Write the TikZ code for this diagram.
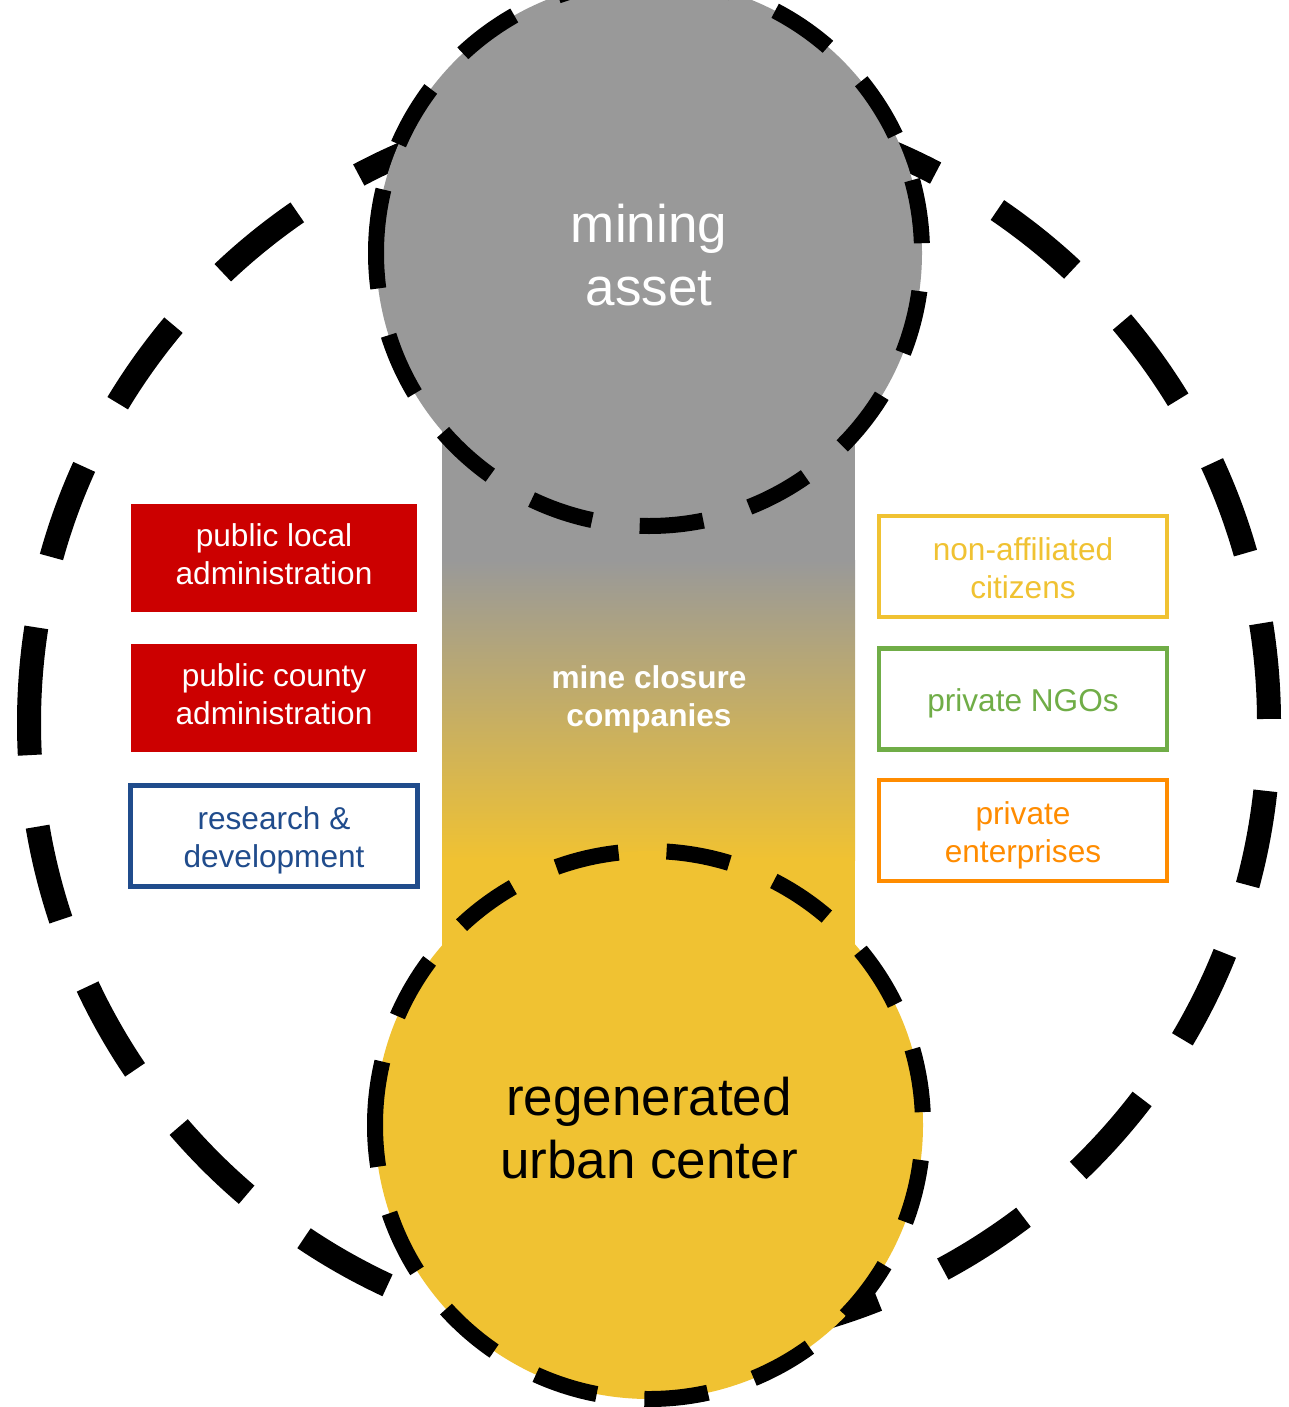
\documentclass[tikz,border=0pt]{standalone}
\usepackage{fontspec}
\setmainfont{Liberation Sans}
\usetikzlibrary{positioning}

\definecolor{assetgray}{HTML}{999999}
\definecolor{urbanyellow}{HTML}{F0C232}
\definecolor{publicred}{HTML}{CC0000}
\definecolor{researchblue}{HTML}{204C8C}
\definecolor{ngogreen}{HTML}{70AD47}
\definecolor{enterpriseorange}{HTML}{FF8C00}

\newcommand{\boxfont}{\fontsize{15.8}{19}\selectfont}
\newcommand{\hubfont}{\fontsize{26.5}{31.5}\selectfont}
\newcommand{\tstrut}{\rule[-3.5pt]{0pt}{19.5pt}}
\newcommand{\bstrut}{\rule[-3.5pt]{0pt}{15.5pt}}

\tikzstyle{hub} = [circle, inner sep=0pt, outer sep=0pt]
\tikzstyle{hubtext} = [font=\hubfont, align=center]
\tikzstyle{ring} = [line width=8pt, dash pattern=on 32pt off 24pt]
\tikzstyle{bigring} = [line width=12pt, dash pattern=on 48pt off 36pt]
\tikzstyle{publicbox} = [rectangle, fill=publicred, text=white, minimum width=143pt, minimum height=54pt, inner sep=0pt, outer sep=0pt, font=\boxfont, align=center]
\tikzstyle{actor} = [rectangle, draw, fill=white, line width=2.25pt, minimum width=144pt, minimum height=50.5pt, inner sep=0pt, font=\boxfont, align=center]

\begin{document}
\begin{tikzpicture}[x=0.5pt, y=-0.5pt]
  \useasboundingbox (0,0) rectangle (1289,1407);

  % Outer region (behind everything)
  \node (territory) [hub, minimum size=620pt] at (649,723) {};
  \draw[bigring] (territory.west) arc[start angle=180, end angle=540, radius=620];

  % Band between the two hubs
  \fill[assetgray] (442,253) rectangle (855,562);
  \shade[top color=assetgray, bottom color=urbanyellow] (442,560) rectangle (855,860);
  \fill[urbanyellow] (442,858) rectangle (855,1125);

  % Hubs
  \node (mining_asset) [hub, minimum size=273pt, fill=assetgray] at (649,253) {};
  \node (urban_center) [hub, minimum size=274pt, fill=urbanyellow] at (649,1125) {};
  \draw[ring] (mining_asset.west) arc[start angle=180, end angle=540, radius=273];
  \draw[ring] (urban_center.west) arc[start angle=180, end angle=540, radius=274];

  \node (mining_label) [hubtext, text=white] at (649,255.5) {mining\\asset};
  \node (urban_label) [hubtext, text=black] at (649,1128.5) {regenerated\\urban center};
  \node (closure) [font=\boxfont\bfseries, text=white, align=center] at (649,699) {mine closure\\companies};

  % Public actors (left)
  \node (public_local) [publicbox] at (274,558) {public local\\\bstrut administration};
  \node (public_county) [publicbox, below=16pt of public_local] {public county\\\bstrut administration};
  \node (research_dev) [actor, draw=researchblue, text=researchblue, minimum width=143.5pt, below=15.5pt of public_county] {\tstrut research \&\\\bstrut development};

  % Private actors (right)
  \node (citizens) [actor, draw=urbanyellow, text=urbanyellow] at (1023,566.5) {\tstrut non-affiliated\\\bstrut citizens};
  \node (ngos) [actor, draw=ngogreen, text=ngogreen, below=13.5pt of citizens] {\tstrut private NGOs};
  \node (enterprises) [actor, draw=enterpriseorange, text=enterpriseorange, below=13pt of ngos] {\tstrut private\\\bstrut enterprises};

\end{tikzpicture}
\end{document}
